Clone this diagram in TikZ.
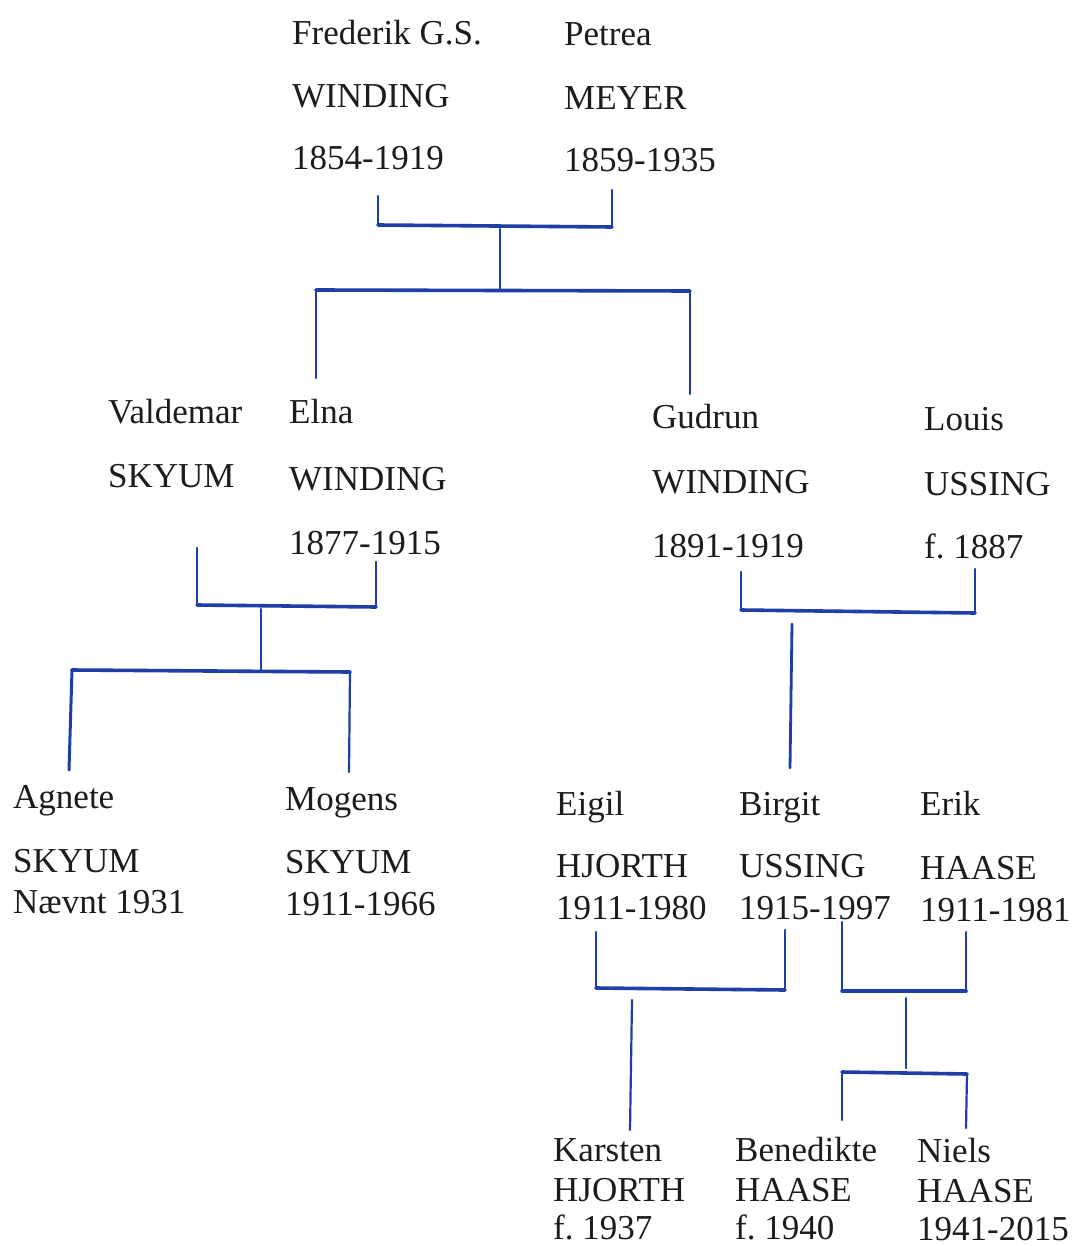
\documentclass[tikz,border=0pt]{standalone}
\usepackage{fontspec}
\setmainfont{Liberation Serif}
\frenchspacing
\definecolor{ink}{RGB}{28,28,28}
\definecolor{pen}{RGB}{30,62,168}
\begin{document}
\begin{tikzpicture}[x=1pt,y=-1pt,
  txt/.style={anchor=base west,inner sep=0pt,text=ink,font=\fontsize{35}{42}\selectfont\frenchspacing},
  vline/.style={draw=pen,line width=2.2pt,line cap=round},
  hline/.style={draw=pen,line width=3.6pt,line cap=round}]
\useasboundingbox[fill=white] (0,0) rectangle (1073,1246);
% generation 1
\node[txt] (fa1) at (292,45) {Frederik G.S.};
\node[txt] (fa2) at (292,108) {WINDING};
\node[txt] (fa3) at (292,170) {1854-1919};
\node[txt] (pa1) at (564,46) {Petrea};
\node[txt] (pa2) at (564,110) {MEYER};
\node[txt] (pa3) at (564,172) {1859-1935};
% generation 2
\node[txt] (va1) at (108,423) {Valdemar};
\node[txt] (va2) at (108,487) {SKYUM};
\node[txt] (el1) at (289,423) {Elna};
\node[txt] (el2) at (289,490) {WINDING};
\node[txt] (el3) at (289,554) {1877-1915};
\node[txt] (gu1) at (652,428) {Gudrun};
\node[txt] (gu2) at (652,493) {WINDING};
\node[txt] (gu3) at (652,557) {1891-1919};
\node[txt] (lo1) at (924,430) {Louis};
\node[txt] (lo2) at (924,495) {USSING};
\node[txt] (lo3) at (924,558) {f. 1887};
% generation 3
\node[txt] (ag1) at (13,808) {Agnete};
\node[txt] (ag2) at (13,872) {SKYUM};
\node[txt] (ag3) at (13,913) {Nævnt 1931};
\node[txt] (mo1) at (285,810) {Mogens};
\node[txt] (mo2) at (285,873) {SKYUM};
\node[txt] (mo3) at (285,915) {1911-1966};
\node[txt] (ei1) at (556,815) {Eigil};
\node[txt] (ei2) at (556,877) {HJORTH};
\node[txt] (ei3) at (556,919) {1911-1980};
\node[txt] (bi1) at (739,815) {Birgit};
\node[txt] (bi2) at (739,877) {USSING};
\node[txt] (bi3) at (739,919) {1915-1997};
\node[txt] (er1) at (920,815) {Erik};
\node[txt] (er2) at (920,879) {HAASE};
\node[txt] (er3) at (920,921) {1911-1981};
% generation 4
\node[txt] (ka1) at (553,1161) {Karsten};
\node[txt] (ka2) at (553,1201) {HJORTH};
\node[txt] (ka3) at (553,1239) {f. 1937};
\node[txt] (be1) at (735,1161) {Benedikte};
\node[txt] (be2) at (735,1201) {HAASE};
\node[txt] (be3) at (735,1239) {f. 1940};
\node[txt] (ni1) at (917,1162) {Niels};
\node[txt] (ni2) at (917,1202) {HAASE};
\node[txt] (ni3) at (917,1240) {1941-2015};
% connector points
\coordinate (A1) at (378,196); \coordinate (A2) at (378,225);
\coordinate (A3) at (612,190); \coordinate (A4) at (612,227);
\coordinate (A5) at (500,229); \coordinate (A6) at (500,290);
\coordinate (B1) at (316,290); \coordinate (B2) at (316,378);
\coordinate (B3) at (690,291); \coordinate (B4) at (690,394);
\coordinate (C1) at (197,548); \coordinate (C2) at (197,605);
\coordinate (C3) at (376,562); \coordinate (C4) at (376,607);
\coordinate (C5) at (261,609); \coordinate (C6) at (261,670);
\coordinate (D1) at (72,670); \coordinate (D2) at (69,770);
\coordinate (D3) at (350,672); \coordinate (D4) at (349,772);
\coordinate (E1) at (741,572); \coordinate (E2) at (741,610);
\coordinate (E3) at (975,569); \coordinate (E4) at (975,613);
\coordinate (E5) at (792,624); \coordinate (E6) at (790,768);
\coordinate (F1) at (596,932); \coordinate (F2) at (596,988);
\coordinate (F3) at (785,930); \coordinate (F4) at (785,990);
\coordinate (F5) at (632,1000); \coordinate (F6) at (630,1130);
\coordinate (G1) at (842,922); \coordinate (G2) at (842,991);
\coordinate (G3) at (966,932); \coordinate (G4) at (966,991);
\coordinate (G5) at (906,998); \coordinate (G6) at (906,1068);
\coordinate (H1) at (842,1072); \coordinate (H2) at (842,1120);
\coordinate (H3) at (967,1074); \coordinate (H4) at (966,1128);
% connectors
\draw[vline] (A1) -- (A2); \draw[vline] (A3) -- (A4);
\draw[hline] (A2) -- (A4);
\draw[vline] (A5) -- (A6);
\draw[hline] (B1) -- (B3);
\draw[vline] (B1) -- (B2); \draw[vline] (B3) -- (B4);
\draw[vline] (C1) -- (C2); \draw[vline] (C3) -- (C4);
\draw[hline] (C2) -- (C4);
\draw[vline] (C5) -- (C6);
\draw[hline] (D1) -- (D3);
\draw[vline,line width=3pt] (D1) -- (D2); \draw[vline] (D3) -- (D4);
\draw[vline] (E1) -- (E2); \draw[vline] (E3) -- (E4);
\draw[hline] (E2) -- (E4);
\draw[vline,line width=2.8pt] (E5) -- (E6);
\draw[vline] (F1) -- (F2); \draw[vline] (F3) -- (F4);
\draw[hline] (F2) -- (F4);
\draw[vline] (F5) -- (F6);
\draw[vline] (G1) -- (G2); \draw[vline] (G3) -- (G4);
\draw[hline] (G2) -- (G4);
\draw[vline] (G5) -- (G6);
\draw[hline] (H1) -- (H3);
\draw[vline] (H1) -- (H2); \draw[vline] (H3) -- (H4);
\end{tikzpicture}
\end{document}
